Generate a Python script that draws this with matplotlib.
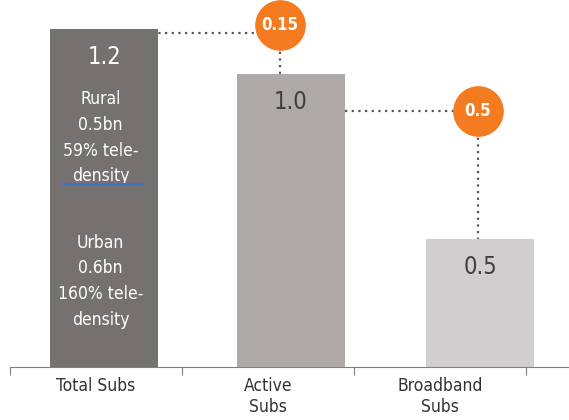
import matplotlib
matplotlib.use('Agg')
import matplotlib.pyplot as plt

# data
categories = ['Total Subs', 'Active\nSubs', 'Broadband\nSubs']
values = [1.2, 1.04, 0.455]
value_labels = ['1.2', '1.0', '0.5']
bar_colors = ['#767171', '#AEAAAA', '#D0CECE']
label_colors = ['white', '#404040', '#404040']
gaps = ['0.15', '0.5']
rural_text = 'Rural\n0.5bn\n59% tele-\ndensity'
urban_text = 'Urban\n0.6bn\n160% tele-\ndensity'

plt.rcParams['font.family'] = ['DejaVu Sans']
plt.rcParams['font.stretch'] = 'condensed'

fig = plt.figure(figsize=(5.69, 4.20), dpi=100)
ax = fig.add_axes([10/569, 53/420, 559/569, 367/420])
ax.set_xlim(-0.5, 2.75)
ax.set_ylim(0, 1.303)

# bars sit a bit off the category slots
bar_x = [0.047, 1.134, 2.233]
ax.bar(bar_x, values, width=0.628, color=bar_colors, zorder=2)

for x, v, t, c in zip(bar_x, values, value_labels, label_colors):
    ax.text(x, v - 0.1, t, ha='center', va='center', fontsize=17, color=c, zorder=4)

ax.text(bar_x[0] - 0.02, 0.814, rural_text, ha='center', va='center', fontsize=12.5,
        color='white', linespacing=1.55, zorder=4)
ax.text(bar_x[0] - 0.02, 0.305, urban_text, ha='center', va='center', fontsize=12.5,
        color='white', linespacing=1.55, zorder=4)
ax.plot([-0.198, 0.273], [0.65, 0.65], color='#4472C4', lw=1.5, zorder=4)

# dotted connectors + orange bubbles
c1 = (1.07, 1.214)
c2 = (2.221, 0.909)
dot = dict(color='#555555', lw=1.6, ls=(0, (1, 2.0)), zorder=1)
ax.plot([0.285, c1[0]], [1.186, 1.186], **dot)
ax.plot([c1[0], c1[0]], [c1[1], values[1]], **dot)
ax.plot([bar_x[1] + 0.314, c2[0]], [c2[1], c2[1]], **dot)
ax.plot([c2[0], c2[0]], [c2[1], values[2]], **dot)
for (cx, cy), g in zip([c1, c2], gaps):
    ax.scatter([cx], [cy], s=1330, color='#F47B20', zorder=5, clip_on=False, linewidths=0)
    ax.text(cx, cy, g, ha='center', va='center', fontsize=12, color='white',
            fontweight='bold', zorder=6)

# axis styling
for s in ['top', 'right', 'left']:
    ax.spines[s].set_visible(False)
ax.spines['bottom'].set_color('#7F7F7F')
ax.set_yticks([])
ax.set_xticks([-0.5, 0.5, 1.5, 2.5])
ax.set_xticklabels([])
ax.tick_params(axis='x', which='major', length=6, color='#7F7F7F', direction='out')
ax.set_xticks([0, 1, 2], minor=True)
ax.set_xticklabels(categories, minor=True, fontsize=12.5, color='#333333', va='top')
ax.tick_params(axis='x', which='minor', length=0, pad=7)

plt.savefig('out.png', dpi=100)
